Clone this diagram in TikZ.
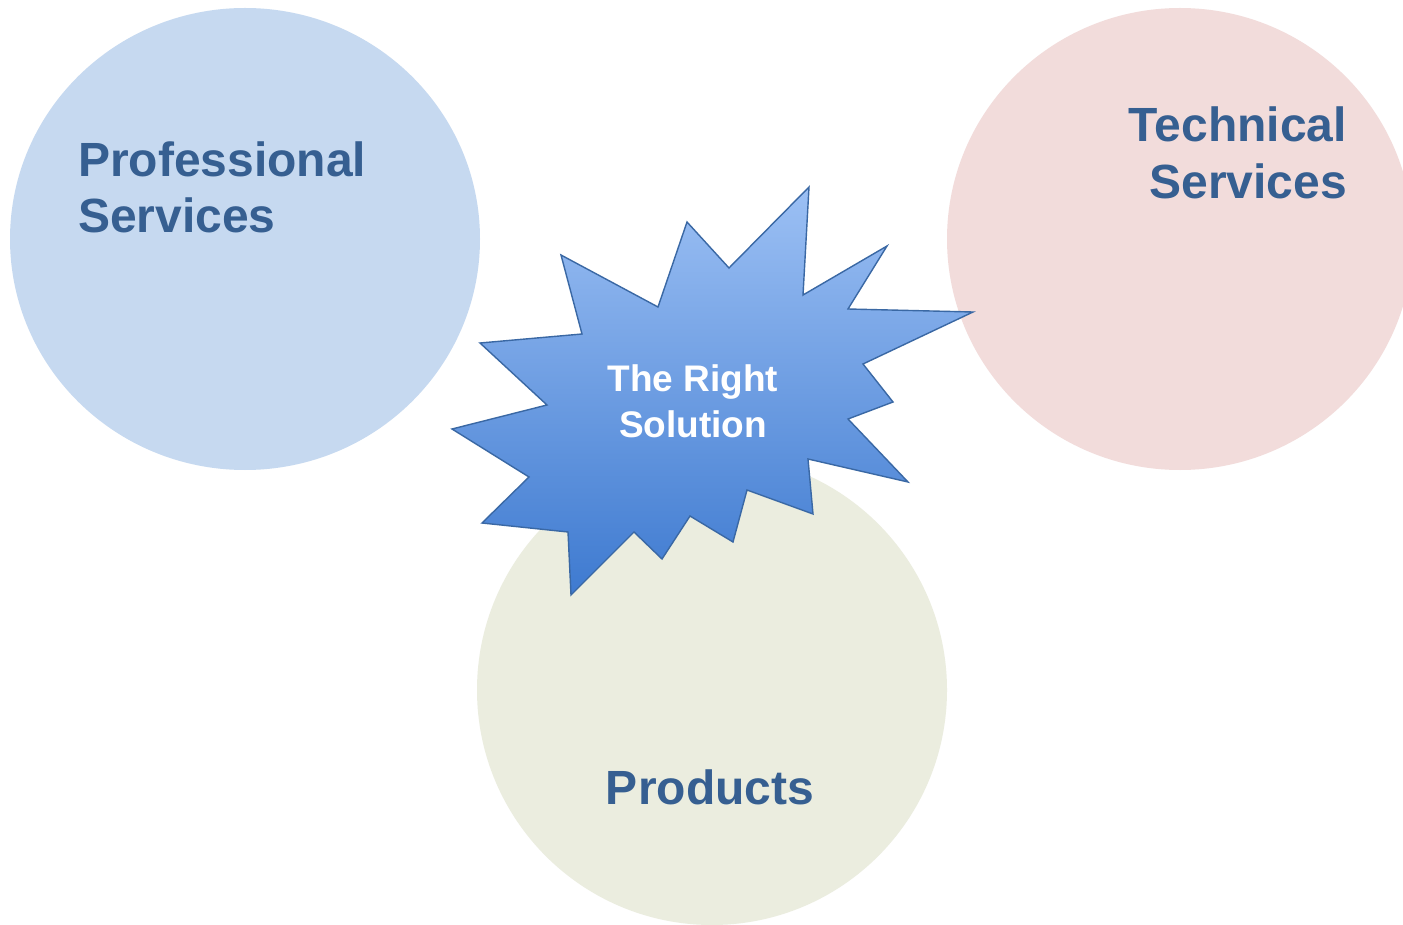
\documentclass[tikz,border=0pt]{standalone}
\usepackage{fontspec}
\setmainfont{Liberation Sans}
\definecolor{cBlue}{RGB}{198,217,240}
\definecolor{cPink}{RGB}{242,220,219}
\definecolor{cOlive}{RGB}{235,237,223}
\definecolor{txt}{RGB}{54,95,145}
\definecolor{starTop}{RGB}{156,192,244}
\definecolor{starBot}{RGB}{62,122,208}
\definecolor{starEdge}{RGB}{58,104,164}
\tikzset{
  lbl/.style={font=\bfseries\fontsize{48}{57}\selectfont, text=txt, inner sep=0pt},
  starlbl/.style={font=\bfseries\fontsize{37}{46}\selectfont, text=white, inner sep=0pt},
}
\begin{document}
\begin{tikzpicture}[x=1pt,y=-1pt]
\useasboundingbox (0,0) rectangle (1403,925);
\clip (0,0) rectangle (1403,925);
\fill[white] (0,0) rectangle (1403,925);
% circles
\fill[cBlue] (245,239) ellipse [x radius=235, y radius=231];
\fill[cPink] (1180,239) ellipse [x radius=233, y radius=231];
\fill[cOlive] (712,690) ellipse [x radius=235, y radius=235];
% starburst
\shadedraw[top color=starTop, bottom color=starBot, draw=starEdge, line width=1.4pt, line join=miter]
  (809,187) -- (803,295) -- (887,246) -- (848,309) -- (973,312) -- (863,364)
  -- (893,402) -- (848,419) -- (908,482) -- (808,459) -- (813,514) -- (747,490)
  -- (733,542) -- (690,516) -- (662,559) -- (634,532) -- (571,595) -- (568,532)
  -- (482,523) -- (529,477) -- (452,429) -- (547,405) -- (480,343) -- (582,334)
  -- (561,255) -- (658,307) -- (687,222) -- (729,268) -- cycle;
% labels
\node[lbl, anchor=base west] (ps1) at (78,177) {Professional};
\node[lbl, anchor=base west] (ps2) at (78,233) {Services};
\node[lbl, anchor=base east] (ts1) at (1347,142) {Technical};
\node[lbl, anchor=base east] (ts2) at (1347,199) {Services};
\node[lbl, anchor=base] (pr) at (710,804) {Products};
\node[starlbl, anchor=base] (rs1) at (693,391) {The Right};
\node[starlbl, anchor=base] (rs2) at (693,437) {Solution};
\end{tikzpicture}
\end{document}
